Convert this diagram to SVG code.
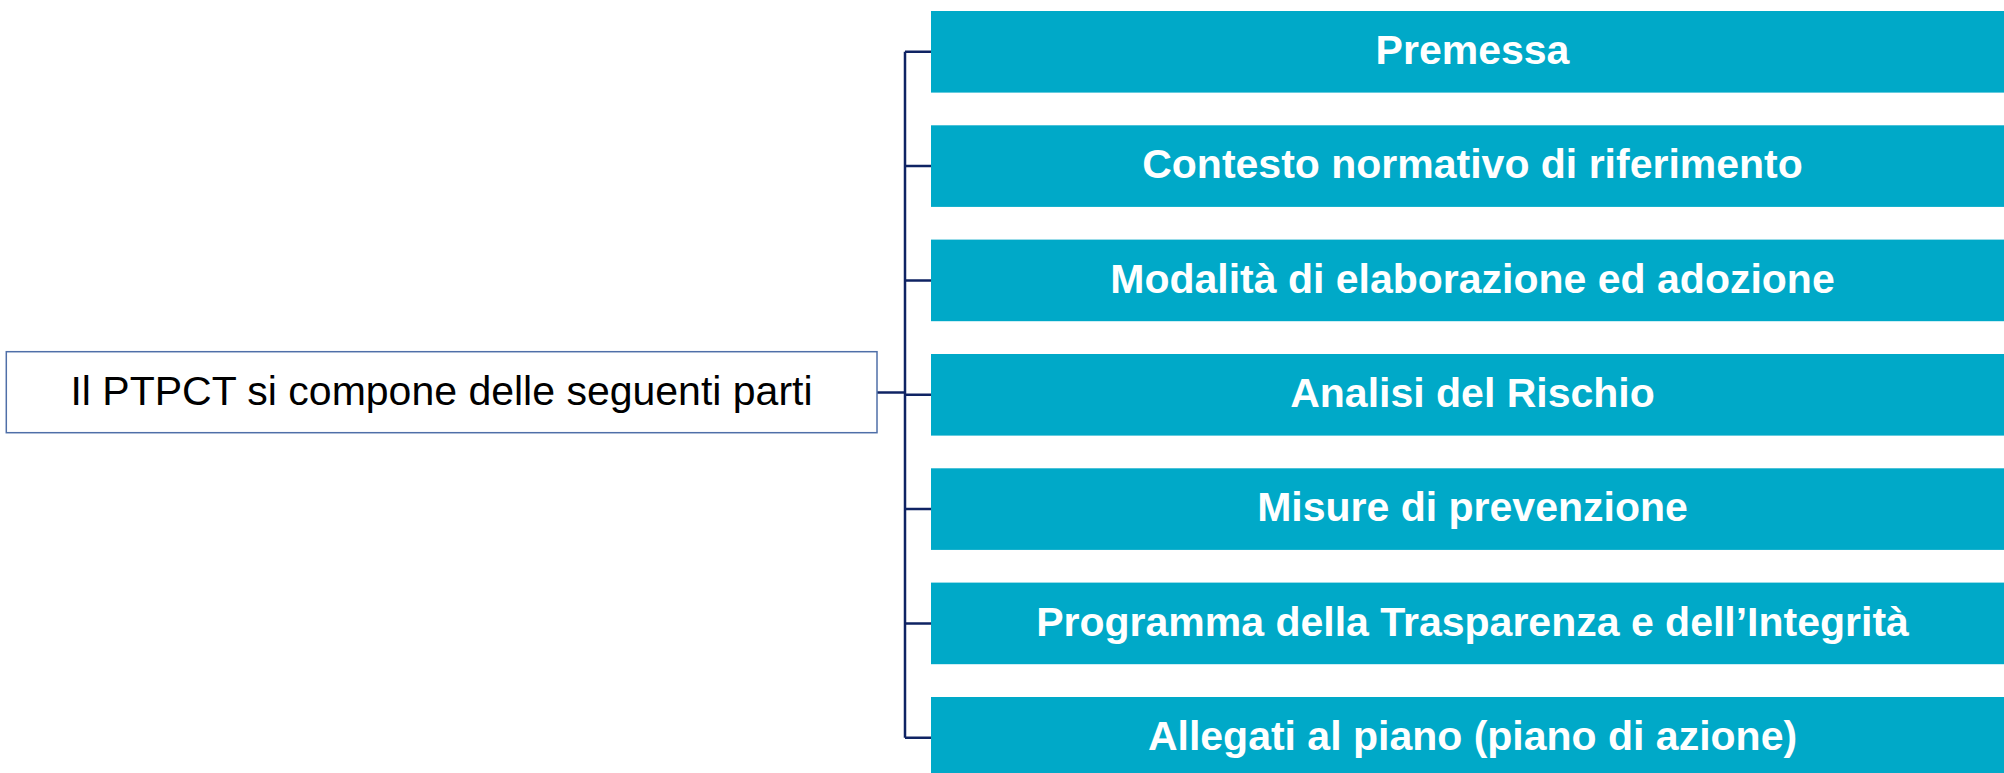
<svg xmlns="http://www.w3.org/2000/svg" width="2004" height="773" viewBox="0 0 2004 773">
<style>
.part{fill:#00A9C8;}
.pt{font-family:"Liberation Sans",Arial,sans-serif;font-weight:bold;font-size:41px;fill:#FFFFFF;text-anchor:middle;}
.conn{stroke:#0F2363;stroke-width:2.5;fill:none;}
.root{fill:#FFFFFF;stroke:#4F6FA8;stroke-width:1.5;}
.rt{font-family:"Liberation Sans",Arial,sans-serif;font-size:41px;fill:#000000;text-anchor:middle;}
</style>
<rect width="2004" height="773" fill="#FFFFFF"/>
<g id="connectors">
<path class="conn" d="M877,392.5 H905"/>
<path class="conn" d="M905,51.8 V737.8"/>
<path class="conn" d="M905,51.8 H931 M905,166.1 H931 M905,280.4 H931 M905,394.8 H931 M905,509.1 H931 M905,623.4 H931 M905,737.8 H931"/>
</g>
<g id="root">
<rect class="root" x="6.3" y="351.7" width="870.7" height="81"/>
<text class="rt" x="441.5" y="405">Il PTPCT si compone delle seguenti parti</text>
</g>
<g id="n1"><rect class="part" x="931" y="11" width="1083" height="81.6"/><text class="pt" x="1472.5" y="64.1">Premessa</text></g>
<g id="n2"><rect class="part" x="931" y="125.3" width="1083" height="81.6"/><text class="pt" x="1472.5" y="178.4">Contesto normativo di riferimento</text></g>
<g id="n3"><rect class="part" x="931" y="239.6" width="1083" height="81.6"/><text class="pt" x="1472.5" y="292.7">Modalità di elaborazione ed adozione</text></g>
<g id="n4"><rect class="part" x="931" y="354" width="1083" height="81.6"/><text class="pt" x="1472.5" y="407.1">Analisi del Rischio</text></g>
<g id="n5"><rect class="part" x="931" y="468.3" width="1083" height="81.6"/><text class="pt" x="1472.5" y="521.4">Misure di prevenzione</text></g>
<g id="n6"><rect class="part" x="931" y="582.6" width="1083" height="81.6"/><text class="pt" x="1472.5" y="635.7">Programma della Trasparenza e dell’Integrità</text></g>
<g id="n7"><rect class="part" x="931" y="697" width="1083" height="81.6"/><text class="pt" x="1472.5" y="750.1">Allegati al piano (piano di azione)</text></g>
</svg>
